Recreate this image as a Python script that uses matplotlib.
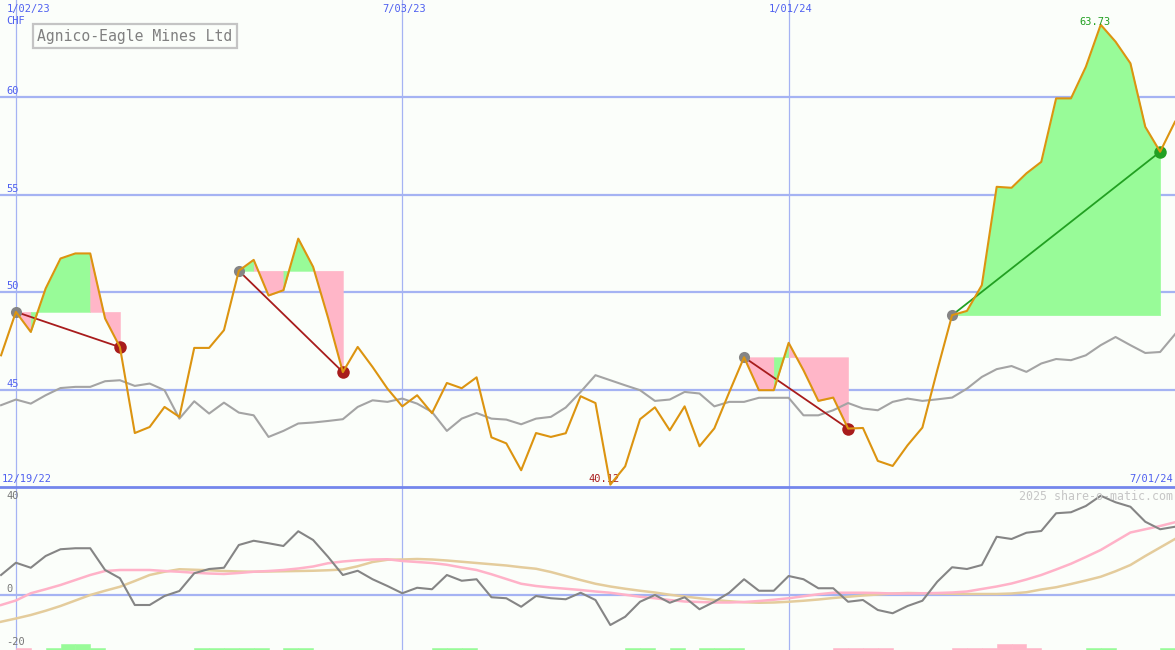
import numpy as np
import pandas as pd
import matplotlib
matplotlib.use("Agg")
import matplotlib.pyplot as plt

# ---------------- data ----------------
dates = pd.date_range("2022-12-26", periods=80, freq="7D")

price = [46.76, 48.99, 47.96, 50.19, 51.73, 51.99, 51.99, 48.65, 47.18, 42.77,
         43.08, 44.11, 43.60, 47.14, 47.14, 48.05, 51.10, 51.66, 49.83, 50.10,
         52.75, 51.30, 48.70, 45.90, 47.19, 46.16, 45.05, 44.14, 44.71, 43.79,
         45.34, 45.07, 45.63, 42.55, 42.24, 40.86, 42.77, 42.57, 42.76, 44.66,
         44.31, 40.12, 41.06, 43.48, 44.09, 42.91, 44.14, 42.09, 43.01, 44.86,
         46.66, 44.97, 44.97, 47.40, 45.99, 44.42, 44.59, 43.00, 43.03, 41.34,
         41.08, 42.14, 43.05, 45.99, 48.82, 49.04, 50.36, 55.41, 55.36, 56.10,
         56.69, 59.95, 59.95, 61.57, 63.73, 62.86, 61.75, 58.49, 57.21, 58.75]

bench = [44.20, 44.49, 44.28, 44.71, 45.08, 45.14, 45.14, 45.43, 45.48, 45.19,
         45.31, 44.97, 43.51, 44.40, 43.77, 44.33, 43.82, 43.68, 42.57, 42.88,
         43.26, 43.31, 43.39, 43.48, 44.11, 44.45, 44.37, 44.54, 44.28, 43.85,
         42.88, 43.51, 43.80, 43.51, 43.46, 43.22, 43.51, 43.60, 44.08, 44.88,
         45.74, 45.48, 45.22, 44.97, 44.42, 44.49, 44.88, 44.80, 44.14, 44.37,
         44.37, 44.58, 44.58, 44.58, 43.68, 43.68, 43.94, 44.31, 44.03, 43.94,
         44.37, 44.54, 44.42, 44.50, 44.59, 45.05, 45.65, 46.05, 46.21, 45.91,
         46.34, 46.57, 46.51, 46.76, 47.28, 47.70, 47.28, 46.88, 46.93, 47.84]

osc = [8.0, 12.9, 10.9, 15.6, 18.3, 18.7, 18.7, 10.0, 6.7, -4.0,
       -4.0, -0.4, 1.6, 8.7, 10.4, 10.9, 20.0, 21.7, 20.7, 19.6,
       25.5, 22.0, 15.3, 8.0, 9.7, 6.3, 3.6, 0.7, 2.9, 2.3,
       8.0, 5.7, 6.3, -0.9, -1.3, -4.7, -0.4, -1.3, -1.7, 0.9,
       -2.0, -12.0, -8.7, -2.7, 0.0, -3.1, -0.9, -5.7, -2.7, 0.9,
       6.3, 1.7, 1.7, 7.6, 6.3, 2.7, 2.7, -2.7, -2.0, -6.0,
       -7.3, -4.4, -2.3, 5.3, 11.1, 10.4, 12.0, 23.3, 22.4, 24.9,
       25.6, 32.7, 33.1, 35.6, 39.7, 37.1, 35.3, 29.3, 26.3, 27.3]

ma_fast = [-4.0, -2.2, 0.7, 2.3, 4.0, 6.0, 8.0, 9.6, 10.0, 10.0,
           10.0, 9.6, 9.3, 8.9, 8.6, 8.4, 8.8, 9.3, 9.6, 10.0,
           10.6, 11.4, 12.7, 13.4, 13.9, 14.2, 14.3, 13.6, 13.2, 12.8,
           12.1, 11.0, 10.0, 8.3, 6.4, 4.5, 3.6, 3.0, 2.5, 2.0,
           1.4, 0.9, 0.1, -0.7, -1.3, -2.0, -2.6, -2.8, -3.0, -3.0,
           -2.8, -2.4, -1.9, -1.3, -0.5, 0.3, 0.9, 0.9, 0.9, 0.8,
           0.6, 0.6, 0.7, 0.8, 1.0, 1.4, 2.4, 3.4, 4.6, 6.2,
           8.0, 10.2, 12.5, 15.2, 18.0, 21.5, 25.0, 26.3, 27.6, 29.1]

ma_slow = [-10.7, -9.4, -8.0, -6.3, -4.4, -2.2, 0.0, 1.7, 3.3, 5.6,
           8.0, 9.3, 10.3, 10.1, 9.9, 9.6, 9.4, 9.3, 9.4, 9.5,
           9.6, 9.7, 9.9, 10.2, 11.5, 13.2, 14.1, 14.2, 14.4, 14.2,
           13.8, 13.3, 12.8, 12.3, 11.8, 11.1, 10.5, 9.2, 7.6, 6.0,
           4.5, 3.4, 2.5, 1.7, 1.0, 0.1, -0.6, -1.3, -2.0, -2.5,
           -2.9, -3.1, -3.0, -2.7, -2.3, -1.8, -1.2, -0.7, -0.2, 0.2,
           0.6, 0.8, 0.7, 0.6, 0.5, 0.4, 0.4, 0.4, 0.6, 1.1,
           2.2, 3.1, 4.4, 5.8, 7.3, 9.5, 12.0, 15.6, 19.0, 22.4]

# weekly signal bars (one per week interval): +green / -pink, 2 = strong
signal_bars = [0, -1, 0, 1, 2, 2, 1, 0, 0, 0,
               0, 0, 0, 1, 1, 1, 1, 1, 0, 1,
               1, 0, 0, 0, 0, 0, 0, 0, 0, 1,
               1, 1, 0, 0, 0, 0, 0, 0, 0, 0,
               0, 0, 1, 1, 0, 1, 0, 1, 1, 1,
               0, 0, 0, 0, 0, 0, -1, -1, -1, -1,
               0, 0, 0, 0, -1, -1, -1, -2, -2, -1,
               0, 0, 0, 1, 1, 0, 0, 0, 1]

trades = [(1, 8), (16, 23), (50, 57), (64, 78)]   # (entry week, exit week)

grid_dates = ["2023-01-02", "2023-07-03", "2024-01-01"]
grid_labels = ["1/02/23", "7/03/23", "1/01/24"]
price_ticks = [45, 50, 55, 60]
osc_ticks = [40, 0, -20]
currency = "CHF"
title = "Agnico-Eagle Mines Ltd"
watermark = "2025 share-o-matic.com"

# ---------------- style ----------------
W, H = 1175, 650
SPLIT = 487
BG = "#fbfefa"
GRID = "#a5b3f3"
SEP = "#7486ec"
BLUE = "#4f60f0"
ORANGE = "#dc9410"
GREEN_FILL = "#98fb98"
PINK_FILL = "#ffb6c8"
LOSS = "#a81c1c"
WIN = "#22a022"
MONO = "DejaVu Sans Mono"

fig = plt.figure(figsize=(W / 100, H / 100), dpi=100)
fig.patch.set_facecolor(BG)
ax = fig.add_axes([0, (H - SPLIT) / H, 1, SPLIT / H])
ax2 = fig.add_axes([0, 0, 1, (H - SPLIT) / H], sharex=ax)
for a in (ax, ax2):
    a.set_facecolor(BG)
    for s in a.spines.values():
        s.set_visible(False)
    a.tick_params(left=False, bottom=False, labelleft=False, labelbottom=False)
ax2.spines["top"].set_visible(True)
ax2.spines["top"].set_color(SEP)
ax2.spines["top"].set_linewidth(2.0)
ax2.spines["top"].set_zorder(10)

x0 = dates[0] - pd.Timedelta(hours=12)
ax.set_xlim(x0, dates[-1])
ax.set_ylim(40, 65)
ax2.set_ylim(-22, 43.2)

price_a = np.array(price)

# grid
for v in price_ticks:
    ax.axhline(v, color=GRID, lw=1.6, zorder=1)
ax2.axhline(0, color=GRID, lw=1.6, zorder=1)
for d in grid_dates:
    ax.axvline(pd.Timestamp(d), color=GRID, lw=0.9, zorder=1)
    ax2.axvline(pd.Timestamp(d), color=GRID, lw=0.9, zorder=1)

# trade fills: colour of each weekly segment follows where the segment ends;
# consecutive segments of one colour are filled as a single polygon
for e, xo in trades:
    level = price[e]
    cols = [GREEN_FILL if price[i + 1] >= level else PINK_FILL for i in range(e, xo)]
    start = e
    for k in range(1, len(cols) + 1):
        if k == len(cols) or cols[k] != cols[k - 1]:
            end = e + k
            ax.fill_between(dates[start:end + 1], price[start:end + 1], level,
                            facecolor=cols[k - 1], edgecolor=cols[k - 1],
                            lw=0.4, zorder=2)
            start = end

# benchmark line
ax.plot(dates, bench, color="#a4a4a4", lw=1.5, zorder=3)

# trade lines and markers
for e, xo in trades:
    col = WIN if price[xo] > price[e] else LOSS
    ax.plot([dates[e], dates[xo]], [price[e], price[xo]], color=col, lw=1.3, zorder=4)
    ax.plot(dates[e], price[e], "o", color="#858585", ms=8, mec="none", zorder=4)
    ax.plot(dates[xo], price[xo], "o", color=col, ms=9, mec="none", zorder=4)

# price line
ax.plot(dates, price, color=ORANGE, lw=1.5, zorder=5)

# extremes
imax = int(np.argmax(price_a))
imin = int(np.argmin(price_a))
ax.annotate(f"{price[imax]:.2f}", (dates[imax], price[imax]), xytext=(-6, -2),
            textcoords="offset pixels", ha="center", va="bottom",
            color=WIN, fontsize=7.5, family=MONO, zorder=6)
ax.annotate(f"{price[imin]:.2f}", (dates[imin], price[imin]), xytext=(-6, 6),
            textcoords="offset pixels", ha="center", va="center",
            color=LOSS, fontsize=7.5, family=MONO, zorder=4)

# y labels top
for v in price_ticks:
    ax.annotate(str(v), xy=(0, v), xycoords=("axes fraction", "data"),
                xytext=(6, 6), textcoords="offset pixels", ha="left", va="center",
                color=BLUE, fontsize=7.5, family=MONO)

# date labels top
for k, (d, lab) in enumerate(zip(grid_dates, grid_labels)):
    if k == 0:
        ax.annotate(lab, xy=(0, 1), xycoords="axes fraction", xytext=(7, -9),
                    textcoords="offset pixels", ha="left", va="center",
                    color=BLUE, fontsize=7.5, family=MONO)
    else:
        ax.annotate(lab, xy=(pd.Timestamp(d), 1), xycoords=("data", "axes fraction"),
                    xytext=(2, -9), textcoords="offset pixels", ha="center",
                    va="center", color=BLUE, fontsize=7.5, family=MONO)

fig.text(6 / W, 1 - 21 / H, currency, ha="left", va="center", color=BLUE,
         fontsize=7.5, family=MONO)

# title box
fig.text(37 / W, 1 - 36 / H, title, ha="left", va="center", color="#808080",
         fontsize=10.6, family=MONO,
         bbox=dict(boxstyle="square,pad=0.3", fc=BG, ec="#c4c4c4", lw=1.6))

# range labels
start_lab = dates[0] - pd.Timedelta(days=7)
end_lab = dates[-1]
fmt = lambda d: f"{d.month}/{d.day:02d}/{d:%y}"
fig.text(2 / W, 1 - 479 / H, fmt(start_lab), ha="left", va="center", color=BLUE,
         fontsize=7.5, family=MONO)
fig.text(1173 / W, 1 - 479 / H, fmt(end_lab), ha="right", va="center", color=BLUE,
         fontsize=7.5, family=MONO)
fig.text(1173 / W, 1 - 497 / H, watermark, ha="right", va="center", color="#c6c6c6",
         fontsize=8.4, family=MONO)

# lower panel
ax2.plot(dates, ma_slow, color="#e4cc9c", lw=1.8, zorder=3)
ax2.plot(dates, ma_fast, color="#ffb2c8", lw=1.8, zorder=3)
ax2.plot(dates, osc, color="#858585", lw=1.5, zorder=4)

bar_h = {1: 0.95, 2: 2.4}
for i, s in enumerate(signal_bars):
    if s == 0:
        continue
    c = GREEN_FILL if s > 0 else PINK_FILL
    ax2.bar(dates[i], bar_h[abs(s)], width=7, align="edge", bottom=-22,
            facecolor=c, edgecolor=c, lw=0.4, zorder=2)

osc_offsets = {40: -1, 0: 6, -20: 3}
for v in osc_ticks:
    ax2.annotate(str(v), xy=(0, v), xycoords=("axes fraction", "data"),
                 xytext=(6, osc_offsets[v]), textcoords="offset pixels", ha="left",
                 va="center", color="#777777", fontsize=7.5, family=MONO)

fig.savefig("out.png", dpi=100, facecolor=BG)
